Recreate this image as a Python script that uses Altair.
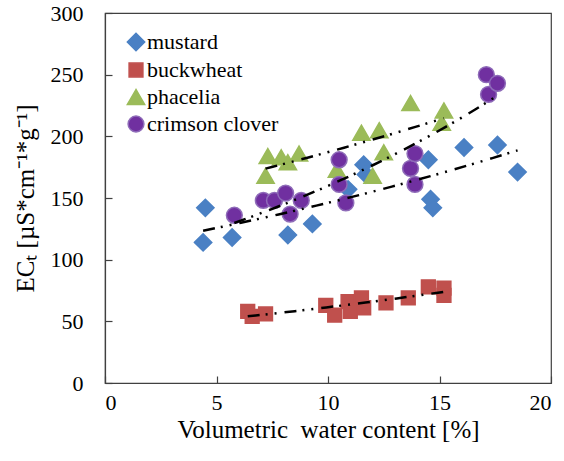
import altair as alt
import pandas as pd

series = ["mustard", "buckwheat", "phacelia", "crimson clover"]
colors = ["#4a80c4", "#c0504d", "#9bbb59", "#7030a0"]
strokes = ["#4a80c4", "#c0504d", "#9bbb59", "#8e6bb8"]
shapes = ["diamond", "square", "triangle-up", "circle"]
sizes = [300, 190, 300, 250]

mustard_x = [4.4, 4.5, 5.7, 8.2, 9.3, 10.9, 11.6, 11.7, 14.5, 14.6, 14.7, 16.1, 17.6, 18.5]
mustard_y = [114, 142, 118, 120, 129, 157, 177, 169, 181, 149, 142, 191, 193, 171]

buckwheat_x = [6.4, 6.6, 7.2, 9.9, 10.3, 10.9, 11.0, 11.5, 11.6, 12.6, 13.6, 14.5, 15.2, 15.2]
buckwheat_y = [58, 54, 56, 63, 55, 66, 58, 69, 61, 65, 69, 78, 77, 71]

phacelia_x = [7.2, 7.3, 7.9, 8.2, 8.7, 10.4, 11.5, 12.0, 12.3, 12.5, 13.7, 15.1, 15.2]
phacelia_y = [168, 184, 183, 179, 186, 173, 203, 168, 205, 187, 227, 211, 221]

clover_x = [5.8, 7.1, 7.6, 8.1, 8.3, 8.8, 10.5, 10.5, 10.8, 13.7, 13.9, 13.9, 17.1, 17.2, 17.6]
clover_y = [136, 148, 148, 154, 137, 148, 181, 161, 146, 174, 186, 161, 250, 234, 243]

x_ticks = [0, 5, 10, 15, 20]
y_ticks = [0, 50, 100, 150, 200, 250, 300]

rows = []
for name, xs, ys in [("mustard", mustard_x, mustard_y),
                     ("buckwheat", buckwheat_x, buckwheat_y),
                     ("phacelia", phacelia_x, phacelia_y),
                     ("crimson clover", clover_x, clover_y)]:
    for a, b in zip(xs, ys):
        rows.append({"series": name, "vwc": a, "ec": b})
df = pd.DataFrame(rows)

FONT = "'Liberation Serif', 'Times New Roman', serif"
AX = "#404040"
x_scale = alt.Scale(domain=[0, 20], nice=False)
y_scale = alt.Scale(domain=[0, 300], nice=False)

base = alt.Chart(df)

points = base.mark_point(filled=True, opacity=1, strokeWidth=1.5).encode(
    x=alt.X("vwc:Q", scale=x_scale,
            axis=alt.Axis(orient="bottom", values=x_ticks, ticks=False, grid=False,
                          title="Volumetric\u00a0 water content [%]", labelPadding=9,
                          titlePadding=4)),
    y=alt.Y("ec:Q", scale=y_scale,
            axis=alt.Axis(orient="left", values=y_ticks, ticks=False, grid=False,
                          title="ECₜ [µS*cm⁻¹*g⁻¹]", labelPadding=22,
                          titlePadding=12)),
    color=alt.Color("series:N", scale=alt.Scale(domain=series, range=colors),
                    legend=alt.Legend(title=None)),
    shape=alt.Shape("series:N", scale=alt.Scale(domain=series, range=shapes),
                    legend=alt.Legend(title=None)),
    size=alt.Size("series:N", scale=alt.Scale(type="ordinal", domain=series, range=sizes),
                  legend=None),
    stroke=alt.Stroke("series:N", scale=alt.Scale(domain=series, range=strokes),
                      legend=None),
)

trend = base.transform_regression(
    "vwc", "ec", groupby=["series"], method="exp"
).mark_line(color="black", strokeWidth=2.5, strokeDash=[12, 6, 2, 7, 2, 8]).encode(
    x=alt.X("vwc:Q", scale=x_scale,
            axis=alt.Axis(orient="bottom", offset=-7, values=x_ticks, labels=False,
                          domain=False, grid=False, title=None, tickSize=7)),
    y=alt.Y("ec:Q", scale=y_scale,
            axis=alt.Axis(orient="left", offset=-7, values=y_ticks, labels=False,
                          domain=False, grid=False, title=None, tickSize=7)),
    detail="series:N",
)

chart = alt.layer(points, trend).resolve_axis(
    x="independent", y="independent"
).properties(
    width=446, height=370,
    autosize=alt.AutoSizeParams(type="none"),
    padding={"left": 105, "top": 13, "right": 13, "bottom": 78},
).configure_view(
    stroke=AX, strokeWidth=1.2
).configure_axis(
    labelFont=FONT, labelFontSize=22, labelColor="black",
    titleFont=FONT, titleFontSize=25, titleColor="black", titleFontWeight="normal",
    domainColor=AX, tickColor=AX, domainWidth=1.2, tickWidth=1.2,
).configure_legend(
    orient="none", legendX=20, legendY=18,
    labelFont=FONT, labelFontSize=22, labelColor="black",
    symbolSize=190, rowPadding=5, labelOffset=0, padding=0,
)

chart.save("out.html", embed_options={"renderer": "svg", "actions": False})
